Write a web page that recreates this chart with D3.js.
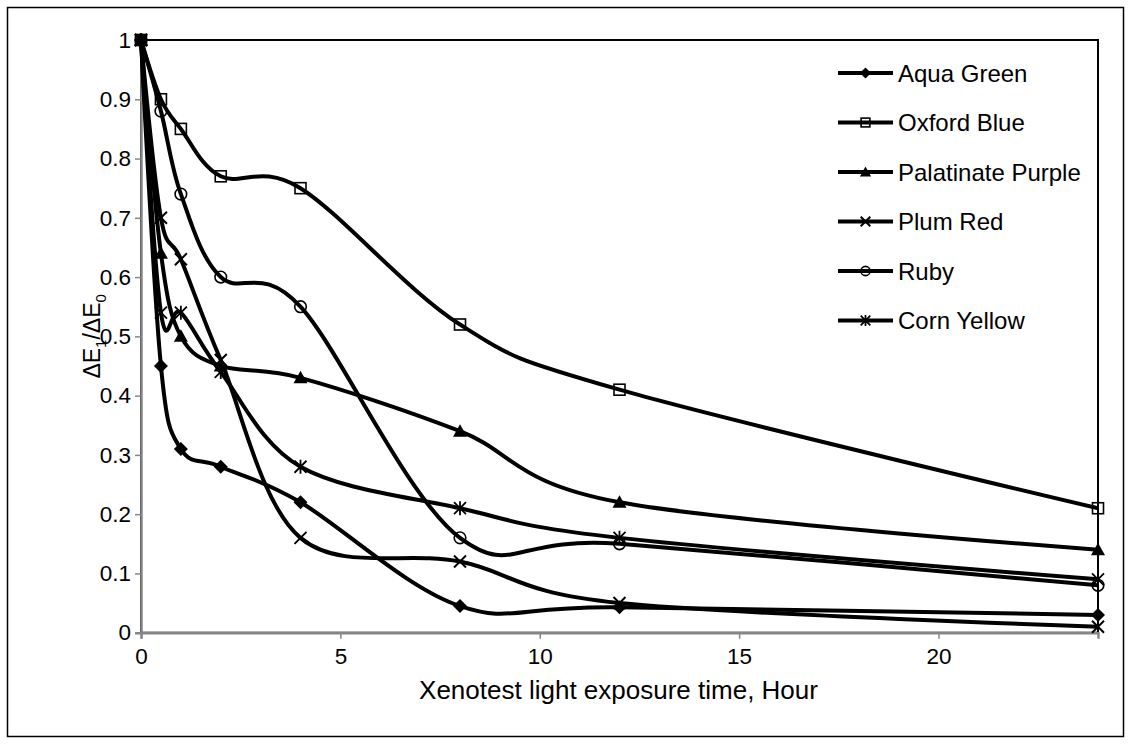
<!DOCTYPE html>
<html>
<head>
<meta charset="utf-8">
<script src="https://cdn.jsdelivr.net/npm/d3@7"></script>
<style>
  html, body { margin: 0; padding: 0; background: #fff; }
  svg { display: block; font-family: "Liberation Sans", Arial, sans-serif; }
</style>
</head>
<body>
<svg id="chart" width="1131" height="744"></svg>
<script>
// ---- data ----
const hours = [0, 0.5, 1, 2, 4, 8, 12, 24];
const seriesNames = ["Aqua Green", "Oxford Blue", "Palatinate Purple", "Plum Red", "Ruby", "Corn Yellow"];
const aquaGreen        = [1, 0.45, 0.31, 0.28, 0.22, 0.045, 0.043, 0.03];
const oxfordBlue       = [1, 0.90, 0.85, 0.77, 0.75, 0.52, 0.41, 0.21];
const palatinatePurple = [1, 0.64, 0.50, 0.45, 0.43, 0.34, 0.22, 0.14];
const plumRed          = [1, 0.70, 0.63, 0.46, 0.16, 0.12, 0.05, 0.01];
const ruby             = [1, 0.88, 0.74, 0.60, 0.55, 0.16, 0.15, 0.08];
const cornYellow       = [1, 0.54, 0.54, 0.44, 0.28, 0.21, 0.16, 0.09];
const seriesValues = [aquaGreen, oxfordBlue, palatinatePurple, plumRed, ruby, cornYellow];
const markerTypes = ["diamond", "square", "triangle", "x", "circle", "asterisk"];
const xTicks = [0, 5, 10, 15, 20];
const yTicks = [0, 0.1, 0.2, 0.3, 0.4, 0.5, 0.6, 0.7, 0.8, 0.9, 1];
const xTitle = "Xenotest light exposure time, Hour";

// ---- layout ----
const svg = d3.select("#chart");
const L = 141, R = 1098, T = 40, B = 632.7;
const x = d3.scaleLinear().domain([0, 24]).range([L, R]);
const y = d3.scaleLinear().domain([0, 1]).range([B, T]);
const FONT = "Liberation Sans, Arial, sans-serif";

// outer border
svg.append("rect").attr("x", 7.5).attr("y", 7.5).attr("width", 1116).attr("height", 729)
  .attr("fill", "#fff").attr("stroke", "#000").attr("stroke-width", 1.5);

// plot area border (top & right visible black)
svg.append("rect").attr("x", L).attr("y", T).attr("width", R - L).attr("height", B - T)
  .attr("fill", "none").attr("stroke", "#000").attr("stroke-width", 2);

// axes
const axisColor = "#868686";
const xAxis = svg.append("g").attr("transform", `translate(0,${B})`)
  .call(d3.axisBottom(x).tickValues(xTicks).tickSize(6).tickPadding(6).tickFormat(d3.format("d")));
const yAxis = svg.append("g").attr("transform", `translate(${L},0)`)
  .call(d3.axisLeft(y).tickValues(yTicks).tickSize(6).tickPadding(4).tickFormat(d => d === 0 ? "0" : d === 1 ? "1" : d3.format(".1f")(d)));
[xAxis, yAxis].forEach(g => {
  g.select(".domain").attr("stroke", axisColor).attr("stroke-width", 2.5);
  g.selectAll(".tick line").attr("stroke", axisColor).attr("stroke-width", 1.5);
  g.selectAll(".tick text").attr("fill", "#000").attr("font-size", 22.5).attr("font-family", FONT);
});
xAxis.selectAll(".tick text").attr("dy", "0.85em");

// axis titles
svg.append("text").attr("x", (L + R) / 2 - 1).attr("y", 699).attr("text-anchor", "middle")
  .attr("font-size", 26).attr("font-family", FONT).text(xTitle);

const yt = svg.append("text").attr("transform", `translate(100,${(T + B) / 2}) rotate(-90)`)
  .attr("text-anchor", "middle").attr("font-size", 23).attr("font-family", FONT);
yt.append("tspan").text("ΔE");
yt.append("tspan").attr("font-size", 15).attr("dy", 6).text("1");
yt.append("tspan").attr("dy", -6).text("/ΔE");
yt.append("tspan").attr("font-size", 15).attr("dy", 6).text("0");

// markers
function drawMarker(g, type, cx, cy, s) {
  switch (type) {
    case "diamond":
      g.append("path").attr("d", `M${cx},${cy - 7 * s}L${cx + 7 * s},${cy}L${cx},${cy + 7 * s}L${cx - 7 * s},${cy}Z`)
        .attr("fill", "#000");
      break;
    case "square":
      g.append("rect").attr("x", cx - 5.5 * s).attr("y", cy - 5.5 * s).attr("width", 11 * s).attr("height", 11 * s)
        .attr("fill", "none").attr("stroke", "#000").attr("stroke-width", 1.6);
      break;
    case "triangle":
      g.append("path").attr("d", `M${cx},${cy - 7 * s}L${cx + 7 * s},${cy + 5.5 * s}L${cx - 7 * s},${cy + 5.5 * s}Z`)
        .attr("fill", "#000");
      break;
    case "x":
      g.append("path").attr("d", `M${cx - 6 * s},${cy - 6 * s}L${cx + 6 * s},${cy + 6 * s}M${cx - 6 * s},${cy + 6 * s}L${cx + 6 * s},${cy - 6 * s}`)
        .attr("stroke", "#000").attr("stroke-width", 2).attr("fill", "none");
      break;
    case "circle":
      g.append("circle").attr("cx", cx).attr("cy", cy).attr("r", 5.8 * s)
        .attr("fill", "none").attr("stroke", "#000").attr("stroke-width", 1.6);
      break;
    case "asterisk":
      g.append("path").attr("d", `M${cx - 6 * s},${cy - 6 * s}L${cx + 6 * s},${cy + 6 * s}M${cx - 6 * s},${cy + 6 * s}L${cx + 6 * s},${cy - 6 * s}M${cx},${cy - 7 * s}L${cx},${cy + 7 * s}`)
        .attr("stroke", "#000").attr("stroke-width", 1.8).attr("fill", "none");
      break;
  }
}

// series lines
const line = d3.line().x(d => x(d[0])).y(d => y(d[1])).curve(d3.curveCardinal.tension(0));
const plot = svg.append("g");
seriesValues.forEach((vals, i) => {
  const pts = hours.map((h, j) => [h, vals[j]]);
  plot.append("path").datum(pts).attr("d", line)
    .attr("fill", "none").attr("stroke", "#000").attr("stroke-width", 4).attr("stroke-linejoin", "round");
});
seriesValues.forEach((vals, i) => {
  const g = plot.append("g");
  hours.forEach((h, j) => drawMarker(g, markerTypes[i], x(h), y(vals[j]), 1));
});

// legend
const legY0 = 73, legDy = 49.5;
seriesNames.forEach((name, i) => {
  const ly = legY0 + i * legDy;
  const g = svg.append("g");
  g.append("line").attr("x1", 838).attr("x2", 893).attr("y1", ly).attr("y2", ly)
    .attr("stroke", "#000").attr("stroke-width", 4);
  drawMarker(g, markerTypes[i], 865.5, ly, 0.8);
  g.append("text").attr("x", 898).attr("y", ly).attr("dy", "0.36em")
    .attr("font-size", 24).attr("font-family", FONT).text(name);
});
</script>
</body>
</html>
